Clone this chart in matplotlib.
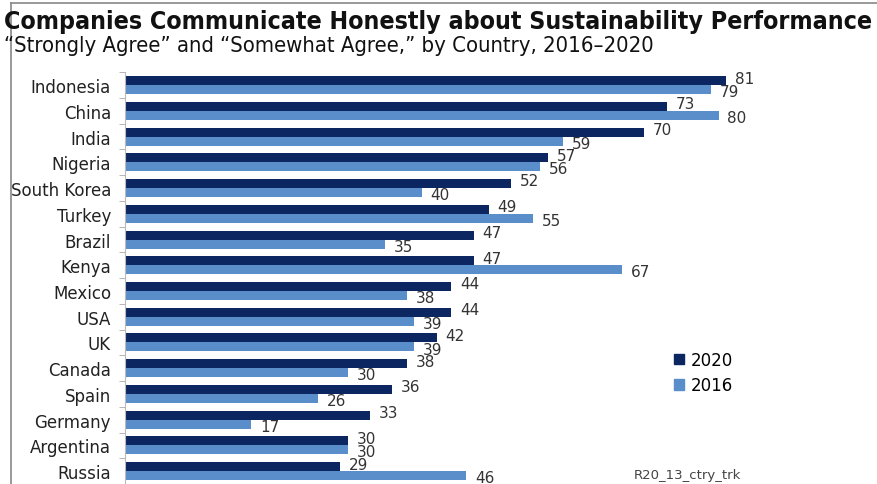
import numpy as np
import matplotlib.pyplot as plt
from matplotlib.lines import Line2D
from matplotlib.patches import Patch

# Data
countries = ['Indonesia', 'China', 'India', 'Nigeria', 'South Korea', 'Turkey',
             'Brazil', 'Kenya', 'Mexico', 'USA', 'UK', 'Canada', 'Spain',
             'Germany', 'Argentina', 'Russia']
vals_2020 = [81, 73, 70, 57, 52, 49, 47, 47, 44, 44, 42, 38, 36, 33, 30, 29]
vals_2016 = [79, 80, 59, 56, 40, 55, 35, 67, 38, 39, 39, 30, 26, 17, 30, 46]

dark = '#0c2661'
light = '#5a8ecb'
txt = '#333333'

fig = plt.figure(figsize=(8.77, 4.85), dpi=100)
ax = fig.add_axes([0.1425, 0.0, 0.846, 0.849])

y = np.arange(len(countries))
h = 0.35
ax.barh(y - h / 2, vals_2020, height=h, color=dark, label='2020')
ax.barh(y + h / 2, vals_2016, height=h, color=light, label='2016')

# value labels: 2020 just above, 2016 just below
for yi, v20, v16 in zip(y, vals_2020, vals_2016):
    ax.text(v20 + 1.2, yi - h / 2 - 0.1, str(v20), va='center', ha='left',
            fontsize=11, color=txt)
    ax.text(v16 + 1.2, yi + h / 2 + 0.08, str(v16), va='center', ha='left',
            fontsize=11, color=txt)

ax.set_xlim(0, 100)
ax.set_ylim(len(countries) - 0.5, -0.5)
ax.set_yticks(y)
ax.set_yticklabels(countries, fontsize=12, color='#222222')
ax.set_yticks(np.arange(len(countries) + 1) - 0.5, minor=True)
ax.tick_params(axis='y', which='major', length=0, pad=10)
ax.tick_params(axis='y', which='minor', length=4, color='#aaaaaa')
ax.set_xticks([])
for s in ['top', 'right', 'bottom']:
    ax.spines[s].set_visible(False)
ax.spines['left'].set_color('#bbbbbb')

handles = [Patch(color=dark, label='2020'), Patch(color=light, label='2016')]
ax.legend(handles=handles, loc='upper left', bbox_to_anchor=(0.72, 0.36),
          frameon=False, fontsize=12, handlelength=0.6, handleheight=0.6,
          handletextpad=0.4, labelspacing=0.45)

fig.text(0.723, 0.012, 'R20_13_ctry_trk', fontsize=9.5, color='#444444')

fig.text(0.004, 0.94, 'Companies Communicate Honestly about Sustainability Performance',
         fontsize=17.9, fontweight='bold', fontstretch='condensed',
         family='DejaVu Sans', color='#111111', va='baseline')
fig.text(0.004, 0.893, '\u201cStrongly Agree\u201d and \u201cSomewhat Agree,\u201d by Country, 2016\u20132020',
         fontsize=15.8, fontstretch='condensed', family='DejaVu Sans',
         color='#111111', va='baseline')

# gray frame lines at top and left
fig.add_artist(Line2D([0.012, 0.012], [0.0, 0.992], color='#888888', lw=1.2,
                      transform=fig.transFigure))
fig.add_artist(Line2D([0.012, 1.0], [0.992, 0.992], color='#888888', lw=1.2,
                      transform=fig.transFigure))

fig.savefig('out.png', dpi=100)
